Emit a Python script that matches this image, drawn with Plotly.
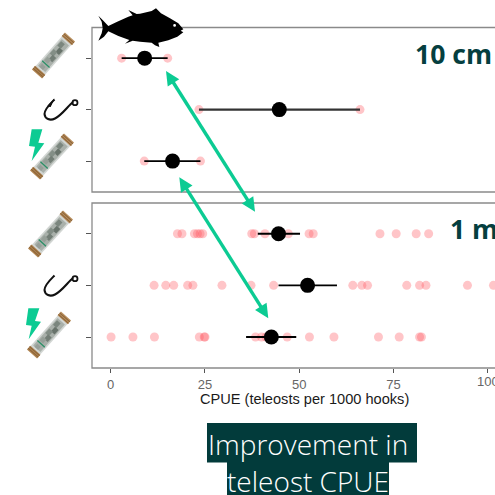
import math
import plotly.graph_objects as go

# ---------- data ----------
gear_rows = ["Tag", "Hook", "Electric tag"]
x_ticks = [0, 25, 50, 75, 100]

cm10_points_tag = [2.9, 15.1]
cm10_points_hook = [23.4, 66.1]
cm10_points_elec = [8.9, 23.8]
cm10_means = [9.0, 44.7, 16.4]
cm10_low = [2.9, 23.4, 8.9]
cm10_high = [15.1, 66.1, 23.8]

m1_points_tag = [17.7, 18.9, 22.2, 23.0, 23.7, 24.4, 37.4, 38.1, 40.9, 47.1,
                 52.6, 53.7, 71.4, 75.7, 81.0, 84.3]
m1_points_hook = [11.5, 14.6, 16.7, 20.4, 21.8, 29.5, 37.2, 43.2, 64.2, 66.6,
                  68.1, 78.5, 81.9, 83.6, 94.6, 101.5]
m1_points_elec = [0.1, 5.9, 11.6, 23.5, 24.8, 25.0, 38.4, 40.0, 41.2, 46.8,
                  52.7, 59.2, 71.0, 76.5, 81.9, 82.4]
m1_means = [44.5, 52.2, 42.6]
m1_low = [39.0, 44.5, 35.9]
m1_high = [50.2, 60.0, 49.2]

# ---------- helpers ----------
W = H = 495
TEAL = "#023b3b"
GREEN = "#0ccb93"
POINT = "rgba(255,85,95,0.34)"


def px(x):
    return x / W


def py(y):
    return 1 - y / H


def path(pts, close=True):
    s = "M " + " L ".join(f"{px(x):.5f} {py(y):.5f}" for x, y in pts)
    return s + (" Z" if close else "")


def poly(pts, color, opacity=1.0):
    return dict(type="path", xref="paper", yref="paper", path=path(pts), fillcolor=color,
                line=dict(width=0), opacity=opacity)


def line(pts, color, width):
    return dict(type="path", xref="paper", yref="paper", path=path(pts, close=False),
                line=dict(color=color, width=width), fillcolor="rgba(0,0,0,0)")


def arrow(a, b):
    ax, ay = a
    bx, by = b
    d = math.hypot(bx - ax, by - ay)
    ux, uy = (bx - ax) / d, (by - ay) / d
    nx, ny = -uy, ux
    L, w = 14, 6.8
    out = [line([(ax + ux * 8, ay + uy * 8), (bx - ux * 8, by - uy * 8)], GREEN, 3.4)]
    out.append(poly([a, (ax + ux * L + nx * w, ay + uy * L + ny * w),
                     (ax + ux * L - nx * w, ay + uy * L - ny * w)], GREEN))
    out.append(poly([b, (bx - ux * L + nx * w, by - uy * L + ny * w),
                     (bx - ux * L - nx * w, by - uy * L - ny * w)], GREEN))
    return out


def tag(a, b):
    ax, ay = a  # upper-right end
    bx, by = b  # lower-left end
    d = math.hypot(bx - ax, by - ay)
    ux, uy = (bx - ax) / d, (by - ay) / d
    nx, ny = -uy, ux

    def seg(t0, t1, hw, color, op=1.0, off=0.0):
        c0 = (ax + ux * d * t0 + nx * off, ay + uy * d * t0 + ny * off)
        c1 = (ax + ux * d * t1 + nx * off, ay + uy * d * t1 + ny * off)
        return poly([(c0[0] + nx * hw, c0[1] + ny * hw), (c1[0] + nx * hw, c1[1] + ny * hw),
                     (c1[0] - nx * hw, c1[1] - ny * hw), (c0[0] - nx * hw, c0[1] - ny * hw)], color, op)

    out = [seg(0.03, 0.97, 6.4, "#d2d6d3")]
    out.append(seg(0.14, 0.86, 4.8, "#a9b0aa"))
    for t0, t1, off, c in [(0.18, 0.30, 1.4, "#7b867e"), (0.30, 0.42, -1.4, "#68736b"),
                           (0.40, 0.52, 1.7, "#838e86"), (0.50, 0.62, -1.2, "#737e76"),
                           (0.60, 0.70, 1.2, "#969f98"), (0.78, 0.86, 0.6, "#979f99")]:
        out.append(seg(t0, t1, 2.4, c, 1.0, off))
    out.append(seg(0.72, 0.745, 5.0, "#2a8f66"))
    out.append(seg(0.0, 0.10, 6.8, "#b98f5e"))
    out.append(seg(0.90, 1.0, 6.8, "#b08450"))
    for t in (0.035, 0.075, 0.925, 0.965):
        out.append(seg(t - 0.01, t + 0.01, 6.8, "#8a6338"))
    return out


def hook(dy):
    def P(x, y):
        return f"{px(x):.5f} {py(y + dy):.5f}"
    s = (f"M {P(73, 102)} C {P(68, 106)} {P(62, 115)} {P(55, 118.5)} "
         f"C {P(50, 121)} {P(45, 119)} {P(44.5, 114)} C {P(44.5, 109)} {P(50, 104)} {P(54.5, 99.5)}")
    return [dict(type="path", xref="paper", yref="paper", path=s,
                 line=dict(color="#111111", width=2.1), fillcolor="rgba(0,0,0,0)"),
            poly([(54.5, 98.5), (50.5, 107), (47.5, 106)], "#111111"),
            dict(type="circle", xref="paper", yref="paper", x0=px(72.5), x1=px(77.5),
                 y0=py(105.2 + dy), y1=py(100.2 + dy), fillcolor="rgba(0,0,0,0)",
                 line=dict(color="#111111", width=1.8))]


def bolt(pts, dy):
    return poly([(x / 3, y / 3 + dy) for x, y in pts], GREEN)


fish_pts = [(25, 47), (38, 60), (55, 78), (80, 66), (115, 50), (128, 46), (115, 30), (140, 42),
            (150, 41), (185, 33), (198, 25), (213, 40), (240, 55), (265, 70), (280, 88), (272, 92),
            (280, 97), (262, 110), (235, 121), (205, 128), (208, 141), (195, 136), (185, 128),
            (150, 125), (128, 122), (105, 131), (118, 120), (85, 108), (55, 94), (42, 110),
            (25, 122), (35, 100), (38, 85), (35, 65)]

# ---------- figure ----------
fig = go.Figure()


def add_row(xa, ya, name, points, mean, low, high, bar_w=1.6, bar_c="#000000"):
    fig.add_trace(go.Scatter(x=points, y=[name] * len(points), xaxis=xa, yaxis=ya, mode="markers",
                             marker=dict(size=9, color=POINT, line=dict(width=0)),
                             showlegend=False, hoverinfo="x"))
    fig.add_trace(go.Scatter(x=[low, high], y=[name, name], xaxis=xa, yaxis=ya, mode="lines",
                             line=dict(color=bar_c, width=bar_w), showlegend=False, hoverinfo="x"))
    fig.add_trace(go.Scatter(x=[mean], y=[name], xaxis=xa, yaxis=ya, mode="markers",
                             marker=dict(size=15, color="#000000", line=dict(width=0)),
                             showlegend=False, hoverinfo="x"))


cm10_points = [cm10_points_tag, cm10_points_hook, cm10_points_elec]
m1_points = [m1_points_tag, m1_points_hook, m1_points_elec]
for i, name in enumerate(gear_rows):
    add_row("x", "y", name, cm10_points[i], cm10_means[i], cm10_low[i], cm10_high[i],
            bar_w=2.4 if i == 1 else 1.7, bar_c="#333333" if i == 1 else "#000000")
    add_row("x2", "y2", name, m1_points[i], m1_means[i], m1_low[i], m1_high[i], bar_w=1.8)

x_range = [-4.96, 101.9]
y_range = [2.6, -0.595]
common_y = dict(type="category", categoryorder="array", categoryarray=gear_rows, range=y_range,
                showgrid=False, zeroline=False, showticklabels=False, ticks="outside",
                ticklen=5, tickwidth=1, tickcolor="#555555", showline=False)

frames = []
for top, bottom in [(27.5, 192), (203, 368)]:
    frames.append(dict(type="rect", xref="paper", yref="paper", x0=px(92), x1=1.1,
                       y0=py(bottom), y1=py(top), line=dict(color="#8a8a8a", width=1.3),
                       fillcolor="rgba(0,0,0,0)"))

shapes = list(frames)
shapes += arrow((166, 71), (255, 211.7))
shapes += arrow((179.3, 177.3), (268.3, 318.3))
shapes.append(poly([(90 + x / 3, y / 3) for x, y in fish_pts], "#000000"))
shapes.append(dict(type="circle", xref="paper", yref="paper", x0=px(173.2), x1=px(176),
                   y0=py(26.8), y1=py(24), fillcolor="#ffffff", line=dict(width=0)))
shapes += tag((70, 37), (37, 74))
shapes += hook(0)
shapes.append(bolt([(95, 388), (127, 388), (115, 428), (133, 430), (95, 483), (105, 440), (87, 438)], 0))
shapes += tag((69, 138), (35, 175))
shapes += tag((68, 215), (33, 253))
shapes += hook(176)
shapes.append(bolt([(85, 340), (118, 340), (105, 378), (123, 380), (86, 433), (95, 392), (78, 390)], 195))
shapes += tag((66, 316), (32, 354))
shapes.append(poly([(207, 423), (417, 423), (417, 462.5), (207, 462.5)], TEAL))
shapes.append(poly([(227, 462), (389, 462), (389, 496), (227, 496)], TEAL))


def note(text, x, y, size, color, family, weight="normal", anchor="left"):
    return dict(text=text, x=px(x), y=py(y), xref="paper", yref="paper", xanchor=anchor,
                yanchor="middle", showarrow=False,
                font=dict(size=size, color=color, family=family, weight=weight))


annotations = [
    note("10 cm", 412.5, 54, 26.6, "#053f3f", "Open Sans", "bold"),
    note("1 m", 447.5, 229, 26.6, "#053f3f", "Open Sans", "bold"),
    note("CPUE (teleosts per 1000 hooks)", 304, 399, 14.6, "#1a1a1a", "Liberation Sans", anchor="center"),
    note("Improvement in", 308, 444, 28, "#ffffff", "Open Sans", 300, "center"),
    note("teleost CPUE", 308, 481, 28, "#ffffff", "Open Sans", 300, "center"),
    dict(text="100", x=100, y=0, xref="x2", yref="paper", yshift=0, xanchor="center",
         yanchor="middle", showarrow=False,
         font=dict(size=13, color="#666666", family="Liberation Sans")),
]
annotations[-1]["y"] = py(381)

fig.update_layout(
    width=W, height=H, autosize=False, margin=dict(l=0, r=0, t=0, b=0),
    paper_bgcolor="#ffffff", plot_bgcolor="#ffffff", showlegend=False,
    xaxis=dict(domain=[px(92), 1], range=x_range, anchor="y", showgrid=False, zeroline=False,
               showticklabels=False, ticks="", showline=False, tickvals=x_ticks),
    yaxis=dict(domain=[py(192), py(27.5)], anchor="x", **common_y),
    xaxis2=dict(domain=[px(92), 1], range=x_range, anchor="y2", showgrid=False, zeroline=False,
                tickvals=x_ticks, ticks="outside", ticklen=4, tickwidth=1, tickcolor="#555555",
                tickfont=dict(size=13, color="#666666", family="Liberation Sans"), showline=False),
    yaxis2=dict(domain=[py(368), py(203)], anchor="x2", **common_y),
    shapes=shapes, annotations=annotations,
)

fig.write_html("out.html", config=dict(displayModeBar=False),
               post_script="document.body.style.margin='0';document.documentElement.style.overflow='hidden';")
